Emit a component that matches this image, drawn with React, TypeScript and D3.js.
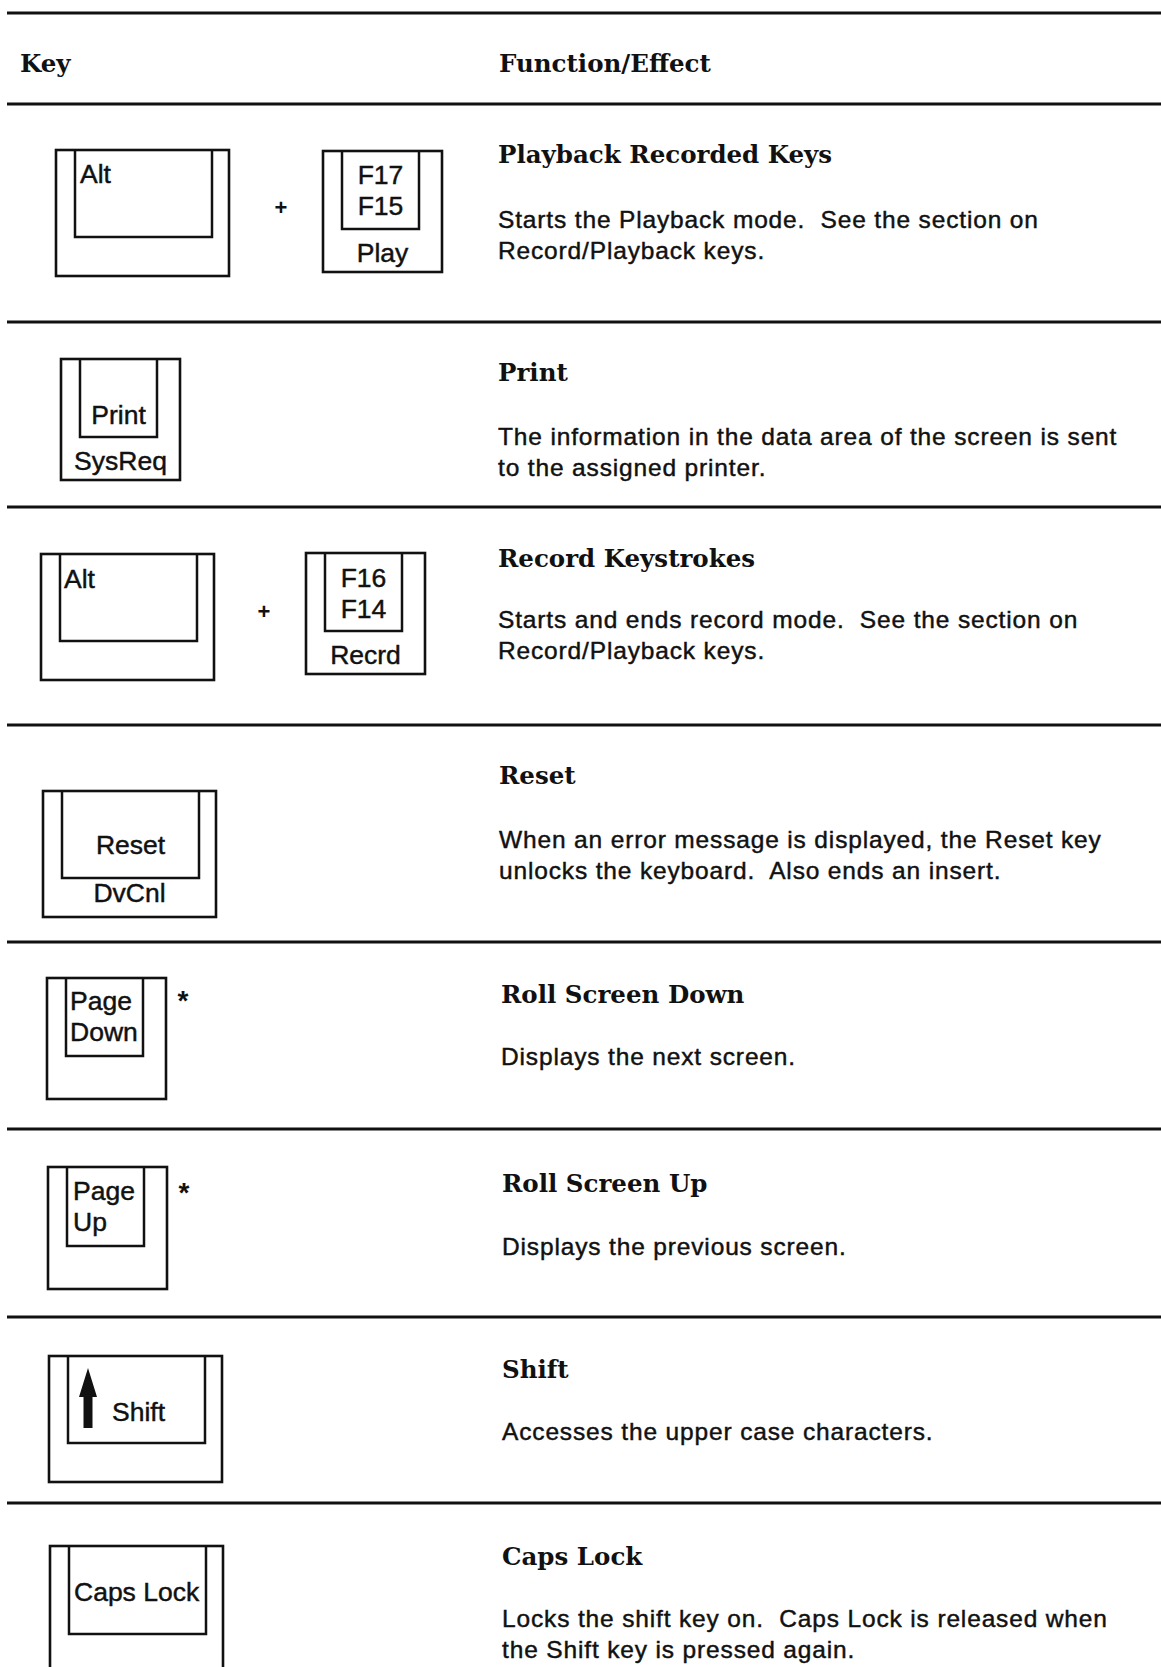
import * as d3 from 'd3';
import React, { useEffect, useRef } from 'react';

const headers = ['Key', 'Function/Effect'];

const functionTitles = [
    'Playback Recorded Keys',
    'Print',
    'Record Keystrokes',
    'Reset',
    'Roll Screen Down',
    'Roll Screen Up',
    'Shift',
    'Caps Lock',
];

const functionTexts = [
    ['Starts the Playback mode.  See the section on', 'Record/Playback keys.'],
    ['The information in the data area of the screen is sent', 'to the assigned printer.'],
    ['Starts and ends record mode.  See the section on', 'Record/Playback keys.'],
    ['When an error message is displayed, the Reset key', 'unlocks the keyboard.  Also ends an insert.'],
    ['Displays the next screen.'],
    ['Displays the previous screen.'],
    ['Accesses the upper case characters.'],
    ['Locks the shift key on.  Caps Lock is released when', 'the Shift key is pressed again.'],
];

// legends on the top of each key cap, per row
const keyTops = [
    [['Alt'], ['F17', 'F15']],
    [['Print']],
    [['Alt'], ['F16', 'F14']],
    [['Reset']],
    [['Page', 'Down']],
    [['Page', 'Up']],
    [['Shift']],
    [['Caps Lock']],
];

// legends on the front of each key cap
const keyFronts = [['', 'Play'], ['SysReq'], ['', 'Recrd'], ['DvCnl'], [''], [''], [''], ['']];

// "+" = press together, "*" = footnote
const rowMarks = ['+', '', '+', '', '*', '*', '', ''];

// ---- layout ----
const W = 1161;
const H = 1667;
const ruleY = [13, 104, 322, 507, 725, 942, 1129, 1317, 1503];
const titleY = [163, 381, 567, 784, 1003, 1192, 1378, 1565];
const descY = [228, 445, 628, 848, 1065, 1255, 1440, 1627];
const textX = [498, 498, 498, 499, 501, 502, 502, 502];

const keyBox = {
    wide: { w: 173, h: 126, inL: 19, inR: 17, inB: 87 },
    narrow: { w: 119, h: 121, inL: 19, inR: 23, inB: 78 },
};

const keyPlace = [
    [
        { x: 56, y: 150, size: 'wide', align: 'left', pad: 24, ty: 33 },
        { x: 323, y: 151, size: 'narrow', align: 'center', ty: 33 },
    ],
    [{ x: 61, y: 359, size: 'narrow', align: 'center', ty: 65 }],
    [
        { x: 41, y: 554, size: 'wide', align: 'left', pad: 23, ty: 34 },
        { x: 306, y: 553, size: 'narrow', align: 'center', ty: 34 },
    ],
    [{ x: 43, y: 791, size: 'wide', align: 'center', ty: 63 }],
    [{ x: 47, y: 978, size: 'narrow', align: 'left', pad: 23, ty: 32 }],
    [{ x: 48, y: 1167, size: 'narrow', align: 'left', pad: 25, ty: 33, h: 122, inB: 79 }],
    [{ x: 49, y: 1356, size: 'wide', align: 'left', pad: 63, ty: 65, arrow: true }],
    [{ x: 50, y: 1546, size: 'wide', align: 'left', pad: 24, ty: 55, h: 190, inB: 88 }],
];

const markPlace = [[281, 207], null, [264, 611], null, [183, 996], [184, 1188], null, null];

const serif = '"DejaVu Serif", "Liberation Serif", serif';
const sans = '"Liberation Sans", Arial, sans-serif';
const ink = '#111';

export default function App() {
    const ref = useRef(null);

    useEffect(() => {
        const svg = d3.select(ref.current);
        svg.selectAll('*').remove();
        svg.attr('width', W).attr('height', H);

        svg.append('rect').attr('width', W).attr('height', H).attr('fill', '#fff');

        // horizontal rules
        svg.selectAll('line.rule')
            .data(ruleY)
            .join('line')
            .attr('class', 'rule')
            .attr('x1', 7)
            .attr('x2', W)
            .attr('y1', d => d)
            .attr('y2', d => d)
            .attr('stroke', ink)
            .attr('stroke-width', 3);

        // column headers
        svg.selectAll('text.header')
            .data(headers)
            .join('text')
            .attr('class', 'header')
            .attr('x', (d, i) => (i === 0 ? 20 : 499))
            .attr('y', 72)
            .attr('font-family', serif)
            .attr('font-weight', 'bold')
            .attr('font-size', 24.5)
            .attr('fill', ink)
            .text(d => d);

        functionTitles.forEach((title, r) => {
            const row = svg.append('g');

            row.append('text')
                .attr('x', textX[r])
                .attr('y', titleY[r])
                .attr('font-family', serif)
                .attr('font-weight', 'bold')
                .attr('font-size', 24.5)
                .attr('fill', ink)
                .text(title);

            row.selectAll('text.desc')
                .data(functionTexts[r])
                .join('text')
                .attr('class', 'desc')
                .attr('x', textX[r])
                .attr('y', (d, i) => descY[r] + i * 30.5)
                .attr('font-family', sans)
                .attr('font-size', 24.5)
                .attr('letter-spacing', 0.85)
                .attr('fill', ink)
                .attr('stroke', ink)
                .attr('stroke-width', 0.45)
                .style('white-space', 'pre')
                .text(d => d);

            // key caps
            keyPlace[r].forEach((k, j) => {
                const b = keyBox[k.size];
                const h = k.h || b.h;
                const inB = k.inB || b.inB;
                const g = row.append('g').attr('transform', `translate(${k.x},${k.y})`);

                g.append('rect')
                    .attr('width', b.w)
                    .attr('height', h)
                    .attr('fill', 'none')
                    .attr('stroke', ink)
                    .attr('stroke-width', 2.6);

                const p = d3.path();
                p.moveTo(b.inL, 0);
                p.lineTo(b.inL, inB);
                p.lineTo(b.w - b.inR, inB);
                p.lineTo(b.w - b.inR, 0);
                g.append('path')
                    .attr('d', p.toString())
                    .attr('fill', 'none')
                    .attr('stroke', ink)
                    .attr('stroke-width', 2.5);

                const cx = b.inL + (b.w - b.inL - b.inR) / 2;
                g.selectAll('text.top')
                    .data(keyTops[r][j])
                    .join('text')
                    .attr('class', 'top')
                    .attr('x', k.align === 'center' ? cx : k.pad)
                    .attr('y', (d, i) => k.ty + i * 31)
                    .attr('text-anchor', k.align === 'center' ? 'middle' : 'start')
                    .attr('font-family', sans)
                    .attr('font-size', 26.5)
                    .attr('fill', ink)
                    .attr('stroke', ink)
                    .attr('stroke-width', 0.45)
                    .text(d => d);

                const front = keyFronts[r][j];
                if (front) {
                    g.append('text')
                        .attr('x', b.w / 2)
                        .attr('y', 111)
                        .attr('text-anchor', 'middle')
                        .attr('font-family', sans)
                        .attr('font-size', 26.5)
                        .attr('fill', ink)
                        .attr('stroke', ink)
                        .attr('stroke-width', 0.45)
                        .text(front);
                }

                if (k.arrow) {
                    const ax = 39;
                    const arrow = d3.path();
                    arrow.moveTo(ax, 12);
                    arrow.lineTo(ax + 9, 41);
                    arrow.lineTo(ax + 4.5, 41);
                    arrow.lineTo(ax + 4.5, 72);
                    arrow.lineTo(ax - 4.5, 72);
                    arrow.lineTo(ax - 4.5, 41);
                    arrow.lineTo(ax - 9, 41);
                    arrow.closePath();
                    g.append('path').attr('d', arrow.toString()).attr('fill', ink);
                }
            });

            const mark = rowMarks[r];
            const mp = markPlace[r];
            if (mark && mp) {
                row.append('text')
                    .attr('x', mp[0])
                    .attr('y', mp[1] + (mark === '+' ? 8 : 14))
                    .attr('text-anchor', 'middle')
                    .attr('font-family', sans)
                    .attr('font-weight', 'bold')
                    .attr('font-size', mark === '+' ? 22 : 28)
                    .attr('fill', ink)
                    .text(mark);
            }
        });
    }, []);

    return <svg ref={ref} style={{ position: 'absolute', left: 0, top: 0, display: 'block' }}></svg>;
}
